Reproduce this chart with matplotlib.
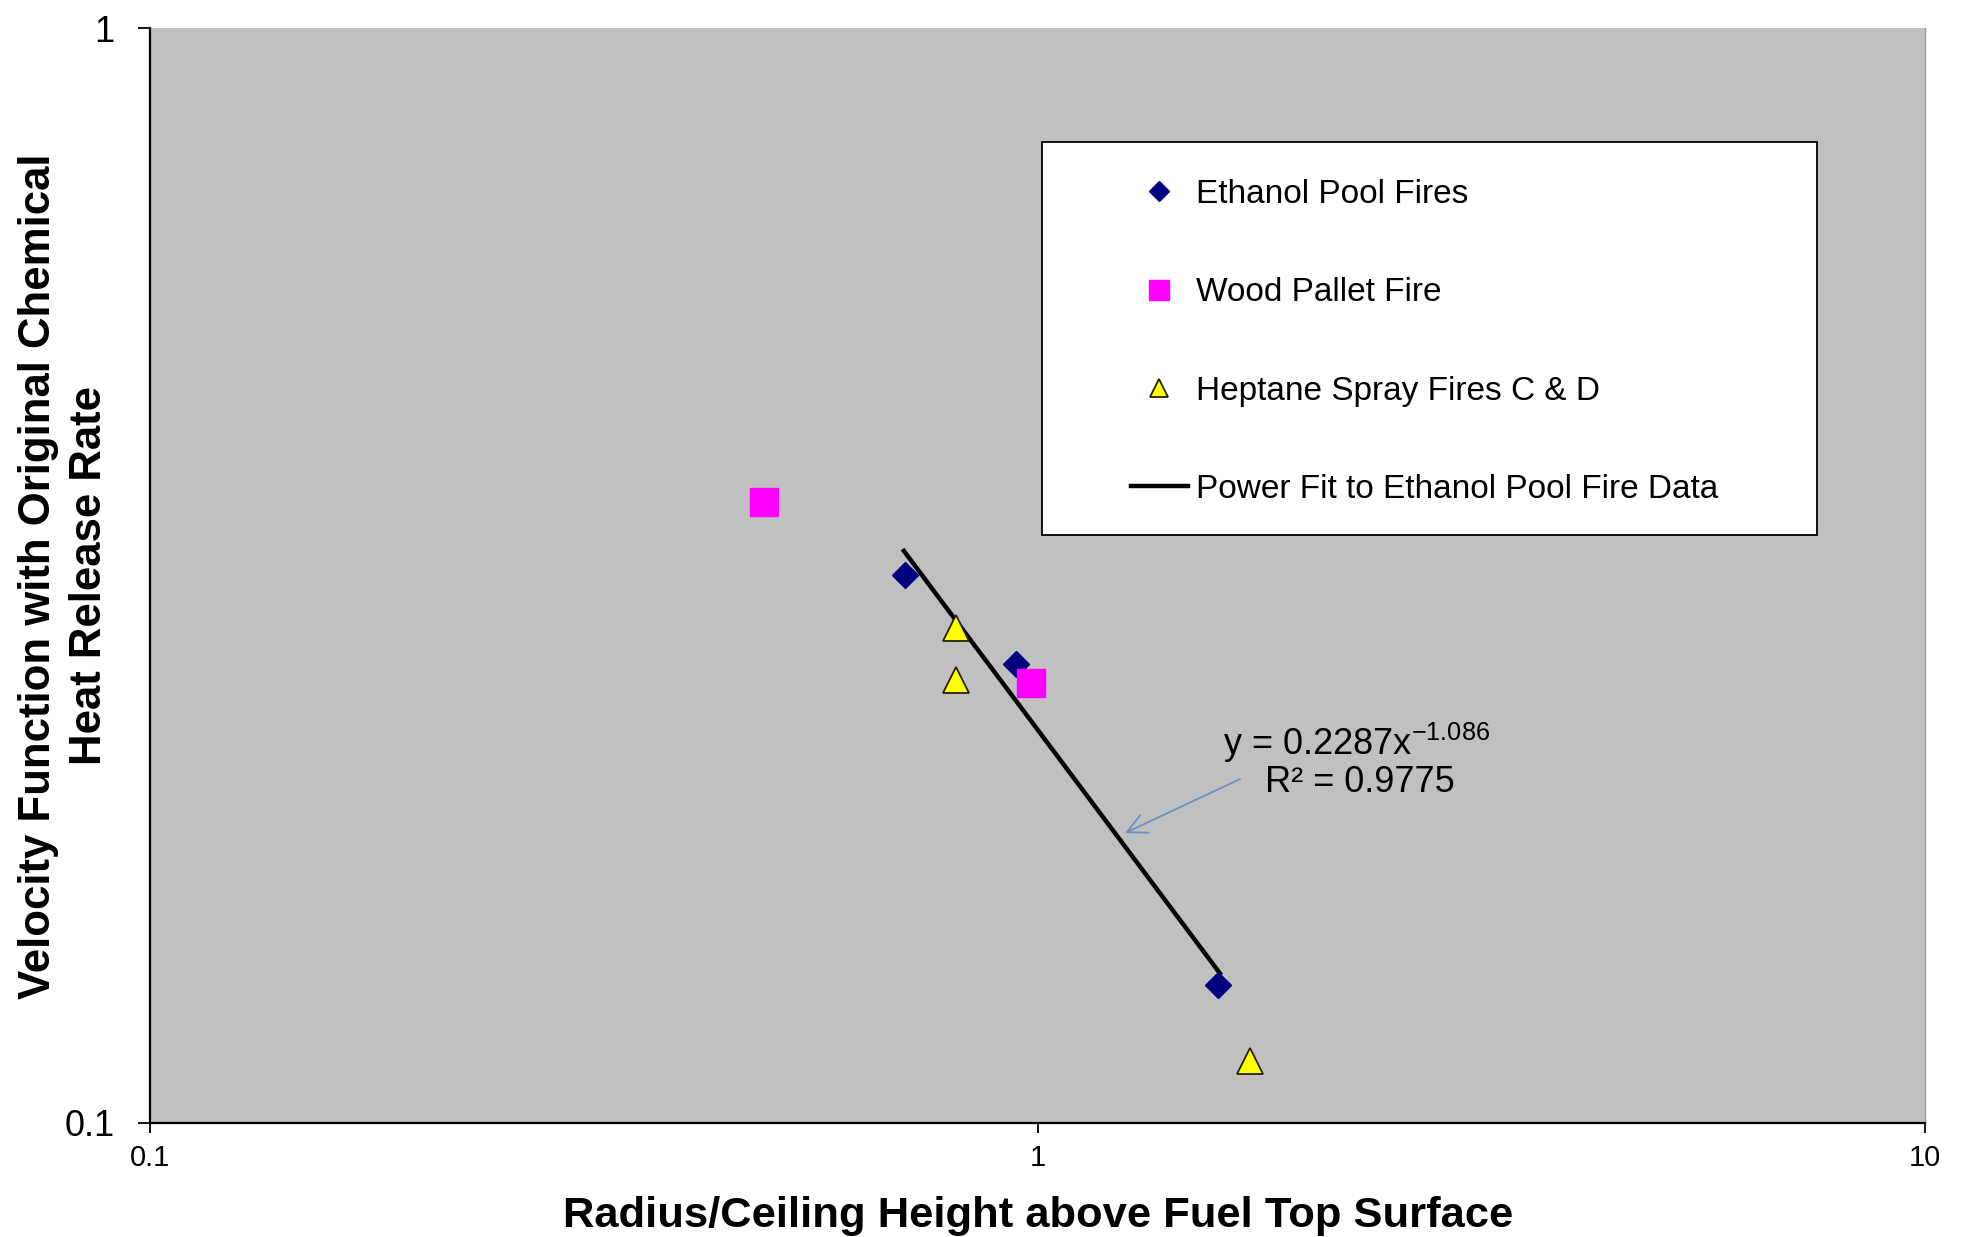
import matplotlib
matplotlib.use('Agg')
import matplotlib.pyplot as plt
from matplotlib.patches import Rectangle

plt.rcParams['font.family'] = ['Liberation Sans', 'DejaVu Sans']
plt.rcParams['mathtext.fontset'] = 'custom'
plt.rcParams['mathtext.rm'] = 'Liberation Sans'

# data
ethanol_x = [0.710, 0.945, 1.599]
ethanol_y = [0.3165, 0.2623, 0.1337]

wood_x = [0.492, 0.984]
wood_y = [0.369, 0.252]

heptane_x = [0.809, 0.809, 1.735]
heptane_y = [0.283, 0.254, 0.114]

# power fit drawn between the ethanol end points
fit_x = [0.707, 1.605]
fit_y = [0.333, 0.137]

xticks = [0.1, 1, 10]
xticklabels = ['0.1', '1', '10']
yticks = [0.1, 1]
yticklabels = ['0.1', '1']

W, H = 1964, 1237
fig = plt.figure(figsize=(W / 100, H / 100), dpi=100)
ax = fig.add_axes([150 / W, 1 - 1123 / H, 1775 / W, 1095 / H])
ax.set_facecolor('#C0C0C0')

ax.plot(fit_x, fit_y, color='black', lw=3.2, zorder=2,
        label='Power Fit to Ethanol Pool Fire Data')
ax.plot(ethanol_x, ethanol_y, ls='none', marker='D', ms=13.5,
        color='#000080', mec='#000080', zorder=3, label='Ethanol Pool Fires')
ax.plot(wood_x, wood_y, ls='none', marker='s', ms=19.5,
        color='#FF00FF', mec='#FF00FF', zorder=3, label='Wood Pallet Fire')
ax.plot(heptane_x, heptane_y, ls='none', marker='^', ms=18.5,
        color='#FFFF00', mec='#222200', mew=1.3, zorder=3,
        label='Heptane Spray Fires C & D')

ax.set_xscale('log')
ax.set_yscale('log')
ax.set_xlim(0.1, 10)
ax.set_ylim(0.1, 1)
ax.set_xticks(xticks)
ax.set_xticklabels(xticklabels)
ax.set_yticks(yticks)
ax.set_yticklabels(yticklabels)
ax.minorticks_off()
ax.tick_params(axis='x', labelsize=21, length=7.2, width=1.3, pad=8)
ax.tick_params(axis='y', labelsize=26, length=8.4, width=1.3, pad=17)

ax.spines['top'].set_visible(False)
ax.spines['right'].set_color('#999999')
ax.spines['right'].set_linewidth(1)
ax.spines['left'].set_linewidth(1.6)
ax.spines['bottom'].set_linewidth(1.6)

# legend box
ax.add_patch(Rectangle((0.5025, 0.537), 0.4369, 0.3593, transform=ax.transAxes,
                       facecolor='white', edgecolor='black', lw=1.3, zorder=4))
handles, labels = ax.get_legend_handles_labels()
order = [1, 2, 3, 0]
leg = ax.legend([handles[i] for i in order], [labels[i] for i in order],
                loc='upper left', bbox_to_anchor=(0.5527, 0.862),
                frameon=False, fontsize=24, borderpad=0, borderaxespad=0,
                labelspacing=2.02, handlelength=1.7, handletextpad=0.25,
                markerscale=0.72)
leg.set_zorder(5)

# fit equation with arrow
ax.text(2.291, 0.2225, r'y = 0.2287x$^{\mathregular{-1.086}}$', fontsize=26,
        ha='center', va='center', zorder=4)
ax.text(2.309, 0.2045, 'R² = 0.9775', fontsize=26, ha='center', va='center',
        zorder=4)
ax.annotate('', xy=(1.255, 0.184), xytext=(1.691, 0.2061),
            arrowprops=dict(arrowstyle='->,head_length=0.7,head_width=0.35',
                            color='#6F8FC0', lw=1.3, mutation_scale=20,
                            shrinkA=0, shrinkB=0), zorder=4)

fig.text(64 / W, 1 - 576 / H,
         'Velocity Function with Original Chemical\nHeat Release Rate',
         rotation=90, ha='center', va='center', multialignment='center',
         fontsize=31.5, fontweight='bold', linespacing=1.3)
fig.text(1038 / W, 1 - 1216 / H, 'Radius/Ceiling Height above Fuel Top Surface',
         ha='center', va='center', fontsize=31.3, fontweight='bold')

fig.savefig('out.png', dpi=100, facecolor='white')
